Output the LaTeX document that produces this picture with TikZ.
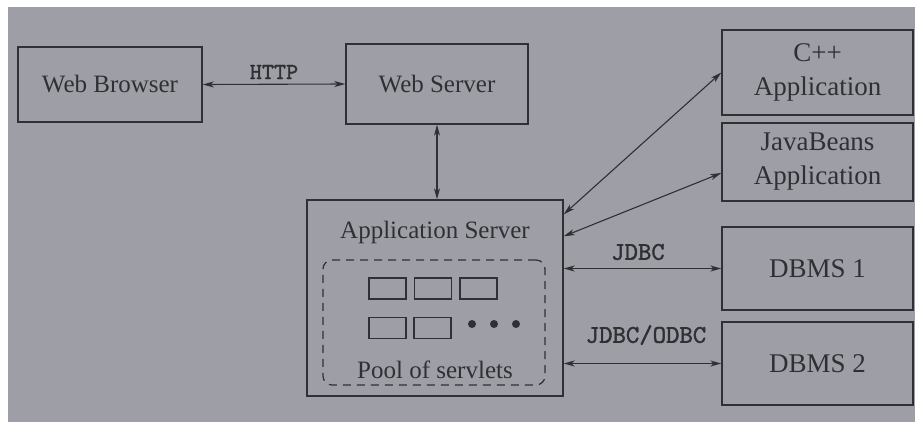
\documentclass[tikz,border=0pt]{standalone}
\usepackage{fontspec}
\setmainfont{Liberation Serif}
\newfontfamily\protofont{lmmono10-regular.otf}[FakeBold=1.6]
\usetikzlibrary{arrows.meta,calc}
\definecolor{paper}{RGB}{158,158,166}
\definecolor{ink}{RGB}{48,48,52}
\tikzset{
  box/.style={draw=ink, line width=1.4pt, inner sep=0pt, text=ink, align=center},
  lbox/.style={box, font=\fontsize{25}{30}\selectfont},
  rbox/.style={box, font=\fontsize{27}{34}\selectfont, minimum width=191pt},
  cell/.style={draw=ink, line width=1.2pt, minimum width=37pt, minimum height=21pt, inner sep=0pt},
  link/.style={draw=ink, line width=1.1pt, {Stealth[length=11pt,width=6pt,inset=3pt]}-{Stealth[length=11pt,width=6pt,inset=3pt]}},
  proto/.style={text=ink, font=\protofont\fontsize{25.5}{30}\selectfont},
  plain/.style={text=ink, font=\fontsize{25}{30}\selectfont}
}
\begin{document}
\begin{tikzpicture}[x=1pt,y=-1pt]
  % page and scanned paper
  \fill[white] (0,0) rectangle (915,422);
  \fill[paper] (8,7) rectangle (915,422);
  \useasboundingbox (0,0) rectangle (915,422);

  % web tier
  \node[lbox, minimum width=184pt, minimum height=75pt] (wb) at (110,84.5) {Web Browser};
  \node[lbox, minimum width=182pt, minimum height=80pt] (ws) at (437,84) {Web Server};

  % application server with its servlet pool
  \node[box, minimum width=256pt, minimum height=196pt] (as) at (435,298) {};
  \node[plain] (ast) at (435,232) {Application Server};
  \node[draw=ink, line width=1.2pt, dash pattern=on 8pt off 6pt, rounded corners=9pt,
        minimum width=222pt, minimum height=125pt, inner sep=0pt] (pool) at (434,322.5) {};
  \node[cell] (c1) at (387.5,288.5) {};
  \node[cell] (c2) at (433,288.5) {};
  \node[cell] (c3) at (478.5,288.5) {};
  \node[cell] (c4) at (387.5,328) {};
  \node[cell] (c5) at (432.5,328) {};
  \fill[ink] (472,324) circle (4pt) (494,324) circle (4pt) (516,324) circle (4pt);
  \node[plain] (poolt) at (435,370) {Pool of servlets};

  % back-end systems
  \node[rbox, minimum height=85pt] (cpp) at (817.5,72.5) {C++\\Application};
  \node[rbox, minimum height=78pt] (jb) at (817.5,162) {JavaBeans\\Application};
  \node[rbox, minimum height=83pt] (db1) at (817.5,268.5) {DBMS 1};
  \node[rbox, minimum height=83pt] (db2) at (817.5,363.5) {DBMS 2};

  % connectors
  \draw[link] (wb.east) -- (ws.west);
  \node[proto, font=\protofont\fontsize{23}{27}\selectfont] (http) at (274,72) {HTTP};
  \draw[link] (ws.south) -- (ws.south |- as.north);
  \draw[link] ($(as.north east)+(0,15)$) -- (cpp.west);
  \draw[link] ($(as.north east)+(0,37)$) -- ([yshift=-11pt]jb.west);
  \draw[link] (db1.west -| as.east) -- (db1.west);
  \node[proto] (jdbc) at (638,252) {JDBC};
  \draw[link] (db2.west -| as.east) -- (db2.west);
  \node[proto] (odbc) at (646,335) {JDBC/ODBC};
\end{tikzpicture}
\end{document}
